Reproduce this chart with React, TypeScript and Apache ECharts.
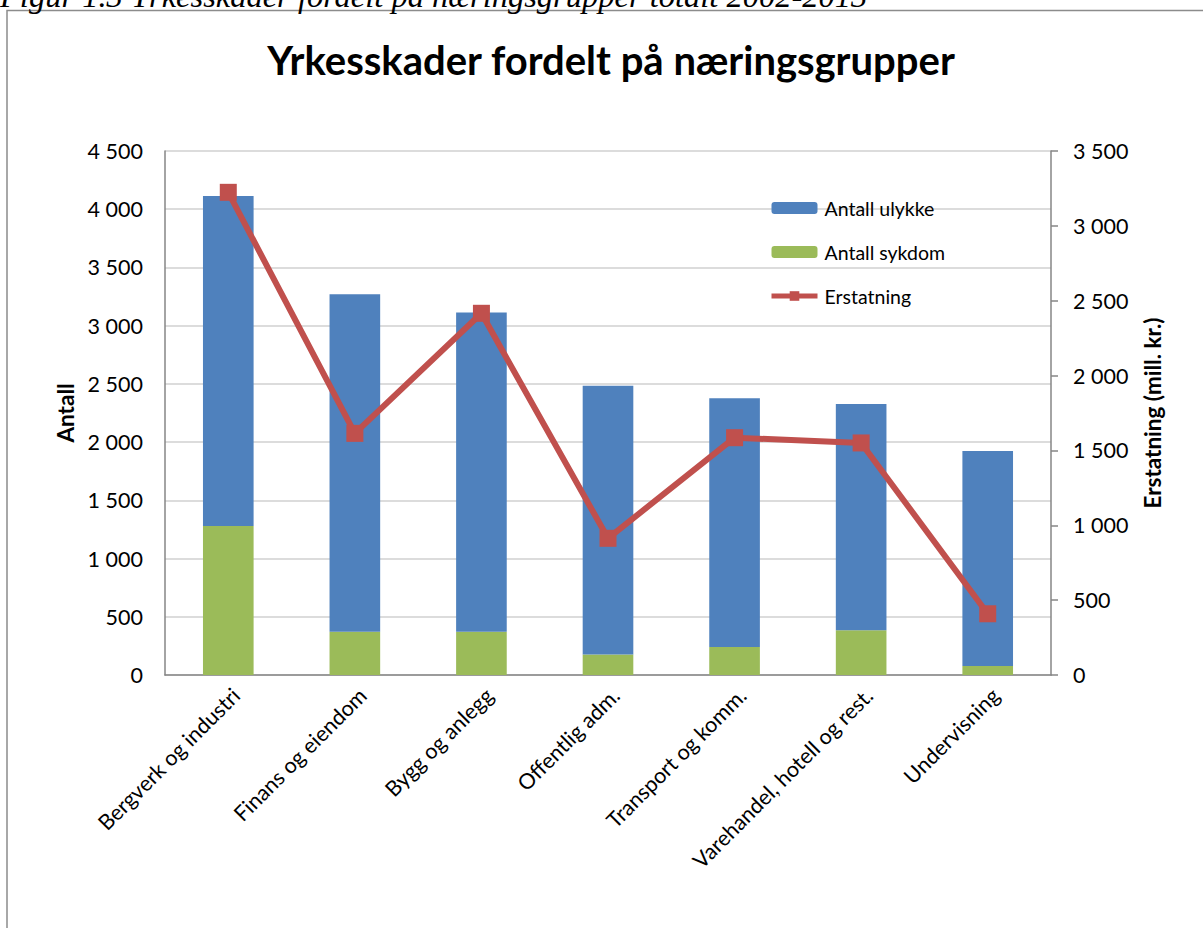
import React, { useEffect, useRef } from "react";
import * as echarts from "echarts";

const categories = [
  "Bergverk og industri",
  "Finans og eiendom",
  "Bygg og anlegg",
  "Offentlig adm.",
  "Transport og komm.",
  "Varehandel, hotell og rest.",
  "Undervisning",
];
const antallSykdom = [1280, 372, 372, 175, 240, 384, 77];
const antallUlykke = [2833, 2897, 2740, 2310, 2136, 1943, 1847];
const erstatning = [3224, 1614, 2416, 913, 1585, 1550, 409];

const leftTicks = { min: 0, max: 4500, interval: 500 };
const rightTicks = { min: 0, max: 3500, interval: 500 };

const FONT = "Lato, 'Noto Sans', sans-serif";
const fmt = (v: number) => String(v).replace(/\B(?=(\d{3})+(?!\d))/g, " ");

export default function App() {
  const ref = useRef<HTMLDivElement>(null);
  useEffect(() => {
    if (!ref.current) return;
    const chart = echarts.init(ref.current, null, { renderer: "svg" });
    chart.setOption({
      animation: false,
      backgroundColor: "#ffffff",
      textStyle: { fontFamily: FONT },
      graphic: [
        {
          type: "rect",
          shape: { x: 7, y: 10.5, width: 1400, height: 1200 },
          style: { fill: "none", stroke: "#8c8c8c", lineWidth: 1.5 },
          silent: true,
        },
        {
          type: "text",
          x: 0,
          y: 12,
          style: {
            text: "Figur 1.3 Yrkesskader fordelt på næringsgrupper totalt 2002-2013",
            font: "italic 32.5px 'Liberation Serif', serif",
            fill: "#000",
            textAlign: "left",
            textVerticalAlign: "bottom",
          },
        },
        {
          type: "text",
          x: 611,
          y: 60,
          style: {
            text: "Yrkesskader fordelt på næringsgrupper",
            font: "bold 40px " + FONT,
            fill: "#000",
            textAlign: "center",
            textVerticalAlign: "middle",
          },
        },
      ],
      legend: {
        orient: "vertical",
        left: 769,
        top: 198,
        padding: 0,
        itemWidth: 46,
        itemHeight: 12,
        itemGap: 24,
        data: [
          { name: "Antall ulykke" },
          { name: "Antall sykdom" },
          { name: "Erstatning", lineStyle: { width: 5, color: "#C0504D" } },
        ],
        textStyle: { fontFamily: FONT, fontSize: 19.5, color: "#000", lineHeight: 20, padding: [0, 0, 0, 2] },
      },
      grid: { left: 165, right: 152, top: 151, bottom: 253, containLabel: false },
      xAxis: {
        type: "category",
        data: categories,
        axisLine: { show: true, lineStyle: { color: "#868686", width: 1.5 } },
        axisTick: { show: false },
        axisLabel: {
          rotate: 45,
          interval: 0,
          margin: 9,
          fontSize: 21.5,
          fontFamily: FONT,
          color: "#000",
          verticalAlign: "top",
        },
      },
      yAxis: [
        {
          type: "value",
          min: leftTicks.min,
          max: leftTicks.max,
          interval: leftTicks.interval,
          name: "Antall",
          nameLocation: "middle",
          nameGap: 82,
          nameRotate: 90,
          nameTextStyle: { fontFamily: FONT, fontWeight: "bold", fontSize: 22.5, color: "#000" },
          axisLine: { show: true, lineStyle: { color: "#868686", width: 1.5 } },
          axisTick: { show: false },
          axisLabel: { formatter: fmt, fontSize: 21.5, margin: 22, color: "#000", fontFamily: FONT },
          splitLine: { show: true, lineStyle: { color: "#d0d0d0", width: 1.5 } },
        },
        {
          type: "value",
          position: "right",
          min: rightTicks.min,
          max: rightTicks.max,
          interval: rightTicks.interval,
          name: "Erstatning (mill. kr.)",
          nameLocation: "middle",
          nameGap: 90,
          nameRotate: 90,
          nameTextStyle: { fontFamily: FONT, fontWeight: "bold", fontSize: 22.5, color: "#000" },
          axisLine: { show: true, lineStyle: { color: "#868686", width: 1.5 } },
          axisTick: { show: true, inside: false, length: 7, lineStyle: { color: "#868686", width: 1.5 } },
          axisLabel: { formatter: fmt, fontSize: 21.5, margin: 22, color: "#000", fontFamily: FONT },
          splitLine: { show: false },
        },
      ],
      series: [
        {
          name: "Antall sykdom",
          type: "bar",
          stack: "antall",
          data: antallSykdom,
          barCategoryGap: "60%",
          itemStyle: { color: "#9BBB59" },
        },
        {
          name: "Antall ulykke",
          type: "bar",
          stack: "antall",
          data: antallUlykke,
          barCategoryGap: "60%",
          itemStyle: { color: "#4F81BD" },
        },
        {
          name: "Erstatning",
          type: "line",
          yAxisIndex: 1,
          data: erstatning,
          symbol: "rect",
          symbolSize: 17,
          lineStyle: { color: "#C0504D", width: 6 },
          itemStyle: { color: "#C0504D" },
        },
      ],
    });
    return () => chart.dispose();
  }, []);
  return (
    <div
      ref={ref}
      style={{ position: "fixed", left: 0, top: 0, width: 1203, height: 928 }}
    />
  );
}
